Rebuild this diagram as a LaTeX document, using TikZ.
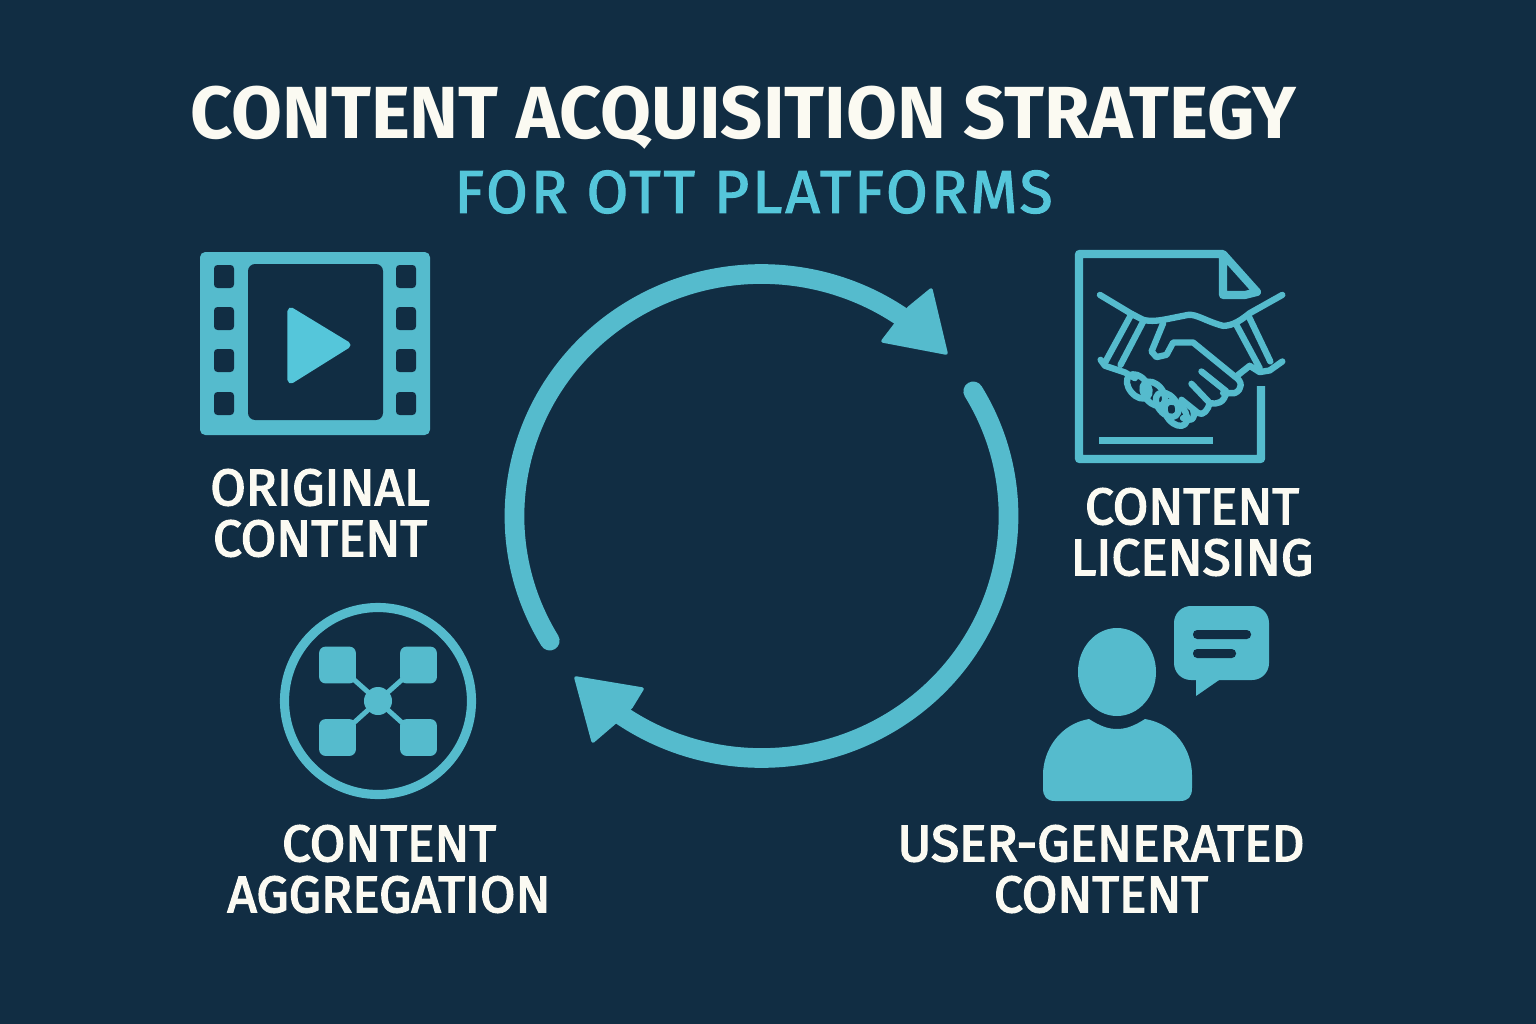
\documentclass[tikz,border=0pt]{standalone}
\usepackage{fontspec}
\usepackage{tikz}
\setmainfont{Fira Sans}
\newfontfamily\spacedfont[LetterSpace=5,FakeBold=2]{Fira Sans}
\newfontfamily\labelfont[FakeBold=3]{Fira Sans}
\definecolor{bgblue}{HTML}{112D43}
\definecolor{iconteal}{HTML}{55BBCD}
\definecolor{subteal}{HTML}{55C6DA}
\definecolor{titlewhite}{HTML}{FBFAF2}
\tikzset{
	titletext/.style={text=titlewhite,font=\fontsize{21}{24}\selectfont\bfseries,inner sep=0pt},
	subtext/.style={text=subteal,font=\fontsize{17.2}{20}\selectfont\spacedfont,inner sep=0pt},
	labeltext/.style={text=titlewhite,font=\fontsize{14.6}{14.5}\selectfont\labelfont,align=center,inner sep=0pt},
	ringline/.style={draw=iconteal,line width=5.6pt,line cap=round},
	headfill/.style={fill=iconteal,draw=iconteal,line width=1pt,line join=round},
	iconfill/.style={fill=iconteal},
	holefill/.style={fill=bgblue,rounded corners=1pt},
	docline/.style={draw=iconteal,line width=2.3pt,line join=round},
	handline/.style={draw=iconteal,line width=1.8pt,line join=round,line cap=round},
	hubbox/.style={fill=iconteal,rounded corners=1.8pt,minimum size=1.05cm*0.35,inner sep=0pt},
}
\begin{document}
\begin{tikzpicture}[x=0.01cm,y=-0.01cm]
		\fill[bgblue] (0,0) rectangle (1536,1024);
		\useasboundingbox (0,0) rectangle (1536,1024);

		\node[titletext] (title) at (743.5,118) {CONTENT ACQUISITION STRATEGY};
		\node[subtext] (subtitle) at (753.5,192) {FOR OTT PLATFORMS};

		\coordinate (ringc) at (761.5,516);
		\draw[ringline] (ringc) ++(149:247 and 242) arc[start angle=149,end angle=305,x radius=247,y radius=242];
		\draw[ringline] (ringc) ++(-31:247 and 242) arc[start angle=-31,end angle=125,x radius=247,y radius=242];
		\draw[headfill] (946,353) -- (931,290) -- (909,308) -- (896,324) -- (883,341) -- cycle;
		\draw[headfill] (576,678) -- (642,689) -- (631,707) -- (614,723) -- (593,741) -- cycle;

		\fill[iconfill,rounded corners=1.5pt] (200,252) rectangle (430,435);
		\fill[holefill,rounded corners=2pt] (248,264) rectangle (383,420);
		\foreach \yy in {265,307,349,392} {
			\fill[holefill] (214,\yy) rectangle (234,\yy+23);
			\fill[holefill] (396,\yy) rectangle (416,\yy+23);
		}
		\draw[headfill,line width=2pt,fill=subteal,draw=subteal] (291,311) -- (347,345) -- (291,380) -- cycle;
		\node[labeltext] (original) at (320,513) {ORIGINAL\\CONTENT};

		\draw[docline] (1261,386) -- (1261,459) -- (1079,459) -- (1079,254) -- (1223,254) -- (1257,292) -- (1245,295) -- (1223,295) -- (1223,254);
		\fill[iconfill] (1099,437) rectangle (1213,444);
		\begin{scope}[shift={(1060,240)},x=0.00333cm,y=-0.00333cm]
			\draw[handline] (120,165) -- (215,222) -- (250,240) .. controls (275,246) and (300,242) .. (330,236) -- (385,225) .. controls (410,222) and (440,245) .. (490,258) .. controls (520,258) and (545,240) .. (570,220) -- (668,165);
			\draw[handline] (215,222) -- (137,365);
			\draw[handline] (250,245) -- (182,375);
			\draw[handline] (530,255) -- (600,385);
			\draw[handline] (565,225) -- (632,365);
			\draw[handline] (122,360) -- (135,378) -- (195,398) -- (225,415);
			\draw[handline] (668,365) -- (630,392) -- (600,397) -- (570,378) -- (532,408);
			\draw[handline] (310,250) -- (275,335) -- (290,352) -- (320,345) -- (340,308) -- (400,308) -- (525,410) .. controls (550,425) and (548,450) .. (525,460) -- (490,460);
			\draw[handline] (425,395) -- (500,455) .. controls (495,490) and (470,495) .. (450,490) -- (395,432);
			\draw[handline] (450,490) .. controls (445,510) and (430,530) .. (415,520) -- (365,480);
			\draw[handline] (400,510) .. controls (410,545) and (385,545) .. (370,535);
			\foreach \cx/\cy in {235/440,282/462,322/495,348/522} {
				\draw[handline,rotate around={-50:(\cx,\cy)}] (\cx,\cy) ellipse (42 and 27);
			}
		\end{scope}
		\node[labeltext] (licensing) at (1192,532) {CONTENT\\LICENSING};

		\draw[draw=iconteal,line width=2.6pt] (378,701) circle (93.5);
		\node[hubbox] (tl) at (337.5,665) {};
		\node[hubbox] (tr) at (418.5,665) {};
		\node[hubbox] (bl) at (337.5,737.5) {};
		\node[hubbox] (br) at (418.5,737.5) {};
		\node[circle,iconfill,minimum size=0.28cm,inner sep=0pt] (hub) at (378,701) {};
		\foreach \boxname in {tl,tr,bl,br} {
			\draw[draw=iconteal,line width=1.4pt] (hub.center) -- (\boxname.center);
		}
		\node[labeltext] (aggregation) at (389,869) {CONTENT\\AGGREGATION};

		\fill[iconfill] (1117,672) ellipse (39 and 44);
		\fill[iconfill] (1089,719) .. controls (1100,726) and (1108,729) .. (1117,729) .. controls (1126,729) and (1134,726) .. (1145,719) .. controls (1175,724) and (1192,750) .. (1192,775) -- (1192,788) .. controls (1192,797) and (1188,801) .. (1180,801) -- (1055,801) .. controls (1047,801) and (1043,797) .. (1043,788) -- (1043,775) .. controls (1043,750) and (1060,724) .. (1089,719) -- cycle;
		\fill[iconfill,rounded corners=4.8pt] (1174,606) rectangle (1269,680);
		\fill[iconfill] (1196,678) -- (1196,696) -- (1222,678) -- cycle;
		\fill[bgblue,rounded corners=1.2pt] (1193,630) rectangle (1251,639);
		\fill[bgblue,rounded corners=1.2pt] (1193,649) rectangle (1236,658);
		\node[labeltext] (usergen) at (1101,869) {USER-GENERATED\\CONTENT};
		\end{tikzpicture}
\end{document}
